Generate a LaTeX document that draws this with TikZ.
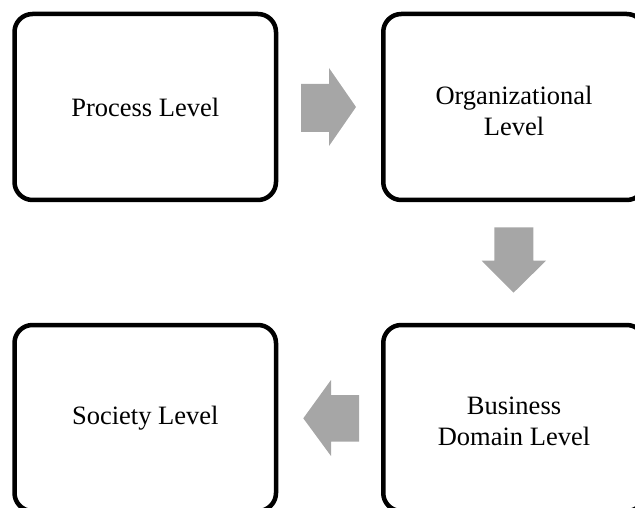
\documentclass[tikz,border=0pt]{standalone}
\usepackage{fontspec}
\setmainfont{Liberation Serif}
\definecolor{arrowgray}{RGB}{166,166,166}
\tikzset{
  levelbox/.style={draw=black, line width=4.5pt, rounded corners=18pt,
    minimum width=261.5pt, minimum height=186pt, inner sep=0pt},
  leveltext/.style={align=center, inner sep=0pt,
    font=\fontsize{26.5}{31}\selectfont},
  blockarrow/.style={fill=arrowgray, draw=none}
}
\begin{document}
\begin{tikzpicture}[x=1pt,y=-1pt]
\useasboundingbox (0,0) rectangle (635,508);
\clip (0,0) rectangle (635,508);
\node[levelbox] (process) at (145.25,107) {};
\node[levelbox] (org) at (514,107) {};
\node[levelbox] (business) at (514,418) {};
\node[levelbox] (society) at (145.25,418) {};
\node[leveltext] (processtext) at ([yshift=-0.5pt]process.center) {Process Level};
\node[leveltext] (orgtext) at ([yshift=-4pt]org.center) {Organizational\\Level};
\node[leveltext] (businesstext) at ([yshift=-3.5pt]business.center) {Business\\Domain Level};
\node[leveltext] (societytext) at (society.center) {Society Level};
% right arrow between process and org
\fill[blockarrow] (301,84) -- (329,84) -- (329,68) -- (356,107) -- (329,146) -- (329,132) -- (301,132) -- cycle;
% down arrow between org and business
\fill[blockarrow] (494.3,227.3) -- (533.3,227.3) -- (533.3,260.7) -- (546,260.7) -- (513.5,292.7) -- (481.7,260.7) -- (494.3,260.7) -- cycle;
% left arrow between business and society
\fill[blockarrow] (359,395) -- (331,395) -- (331,380) -- (303.3,418.3) -- (331,456) -- (331,441.7) -- (359,441.7) -- cycle;
\end{tikzpicture}
\end{document}
